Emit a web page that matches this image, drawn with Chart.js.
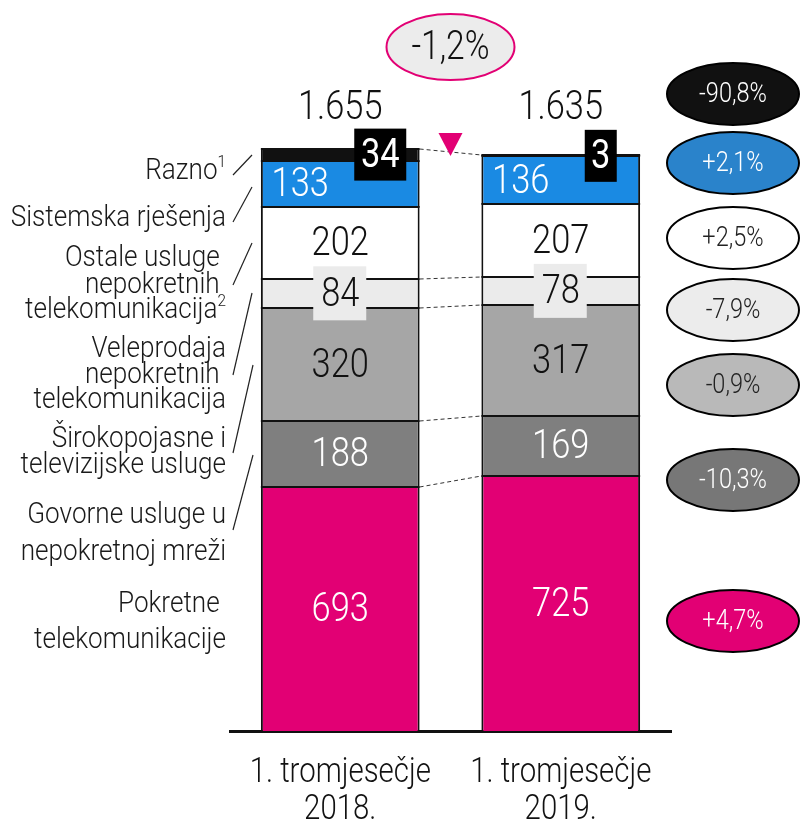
<!DOCTYPE html>
<html>
<head>
<meta charset="utf-8">
<script src="https://cdn.jsdelivr.net/npm/chart.js@4"></script>
<style>
  html, body { margin: 0; padding: 0; background: #fff; }
  #wrap { width: 801px; height: 828px; }
</style>
</head>
<body>
<div id="wrap"><canvas id="c" width="801" height="828"></canvas></div>
<script>
const FONT = "Roboto, 'DejaVu Sans Condensed', sans-serif";
const SX = 0.84;

const categories = [['1. tromjesečje', '2018.'], ['1. tromjesečje', '2019.']];
const seriesNames = ['Pokretne telekomunikacije', 'Govorne usluge u nepokretnoj mreži', 'Širokopojasne i televizijske usluge',
  'Veleprodaja nepokretnih telekomunikacija', 'Ostale usluge nepokretnih telekomunikacija', 'Sistemska rješenja', 'Razno'];
const pokretne = [693, 725];
const govorne = [188, 169];
const sirokopojasne = [320, 317];
const veleprodaja = [84, 78];
const ostale = [202, 207];
const sistemska = [133, 136];
const razno = [34, 3];
const totalLabels = ['1.655', '1.635'];
const changeLabels = ['+4,7%', '-10,3%', '-0,9%', '-7,9%', '+2,5%', '+2,1%', '-90,8%'];
const totalChange = '-1,2%';

const fills = ['#e20074', '#7f7f7f', '#a6a6a6', '#ebebeb', '#ffffff', '#1a8ae3', '#111111'];
const textColors = ['#fff', '#fff', '#111', '#111', '#111', '#fff', '#fff'];
const ellipseFills = ['#e20074', '#777777', '#b9b9b9', '#ececec', '#ffffff', '#2a83cb', '#111111'];
const ellipseText = ['#fff', '#fff', '#222', '#222', '#222', '#fff', '#fff'];
const ellipseY = [621, 480, 385, 310, 238, 163, 94];

const allSeries = [pokretne, govorne, sirokopojasne, veleprodaja, ostale, sistemska, razno];

const leftLabels = [
  { lines: ['Razno'], sup: '1', y: [172] },
  { lines: ['Sistemska rješenja'], y: [219] },
  { lines: ['Ostale usluge ', 'nepokretnih ', 'telekomunikacija'], sup: '2', y: [259, 286, 311] },
  { lines: ['Veleprodaja', 'nepokretnih ', 'telekomunikacija'], y: [350, 376, 401] },
  { lines: ['Širokopojasne i', 'televizijske usluge'], y: [440, 466] },
  { lines: ['Govorne usluge u', 'nepokretnoj mreži'], y: [516, 553] },
  { lines: ['Pokretne ', 'telekomunikacije'], y: [605, 641] }
];
const leaders = [
  [233, 175, 252, 155], [233, 222, 252, 187], [233, 285, 252, 243],
  [233, 375, 252, 293], [233, 453, 253, 365], [233, 530, 253, 455]
];

function txt(ctx, s, x, y, size, color, align, weight, sx) {
  ctx.save();
  ctx.font = (weight || 300) + ' ' + size + 'px ' + FONT;
  ctx.fillStyle = color;
  ctx.textAlign = align || 'center';
  ctx.textBaseline = 'middle';
  ctx.translate(x, y);
  const k = sx || SX;
  ctx.scale(k, 1);
  ctx.fillText(s, 0, 0);
  const w = ctx.measureText(s).width * k;
  ctx.restore();
  return w;
}

const overlay = {
  id: 'overlay',
  afterDatasetsDraw(chart) {
    const ctx = chart.ctx;
    const metas = allSeries.map((_, i) => chart.getDatasetMeta(i));
    ctx.save();

    // segment boundary lines
    ctx.strokeStyle = '#111';
    ctx.lineWidth = 2;
    metas.forEach(m => m.data.forEach(el => {
      const y = Math.round(el.y);
      ctx.beginPath();
      ctx.moveTo(el.x - el.width / 2, y);
      ctx.lineTo(el.x + el.width / 2, y);
      ctx.stroke();
    }));

    // dashed connectors
    ctx.strokeStyle = '#333';
    ctx.lineWidth = 1;
    ctx.setLineDash([4, 3]);
    [0, 1, 2, 3, 6].forEach(i => {
      const a = metas[i].data[0], b = metas[i].data[1];
      ctx.beginPath();
      ctx.moveTo(a.x + a.width / 2, Math.round(a.y));
      ctx.lineTo(b.x - b.width / 2, Math.round(b.y));
      ctx.stroke();
    });
    ctx.setLineDash([]);

    // segment labels
    allSeries.forEach((arr, i) => {
      metas[i].data.forEach((el, j) => {
        const cy = (el.y + el.base) / 2;
        let cx = el.x;
        if (i === 5) cx = el.x - 40;
        if (i === 6) cx = el.x + 40;
        if (i === 3) {
          ctx.fillStyle = '#ebebeb';
          ctx.fillRect(cx - 27, cy - 27, 53, 54);
        }
        if (i === 6) {
          const w = String(arr[j]).length > 1 ? 52 : 32;
          ctx.fillStyle = '#000';
          ctx.fillRect(cx - w / 2, cy - 26, w, 52);
        }
        txt(ctx, String(arr[j]), cx, cy + 2, 41, textColors[i], 'center', i === 6 ? 400 : 300);
      });
    });

    // totals
    metas[6].data.forEach((el, j) => txt(ctx, totalLabels[j], el.x, 109, 41, '#111'));

    // category labels
    metas[0].data.forEach((el, j) => {
      txt(ctx, categories[j][0], el.x, 773, 35, '#111');
      txt(ctx, categories[j][1], el.x, 810, 35, '#111');
    });

    // triangle
    const mid = (metas[0].data[0].x + metas[0].data[1].x) / 2;
    ctx.fillStyle = '#e20074';
    ctx.beginPath();
    ctx.moveTo(mid - 12, 133);
    ctx.lineTo(mid + 12, 133);
    ctx.lineTo(mid, 156);
    ctx.closePath();
    ctx.fill();

    // top ellipse
    ctx.beginPath();
    ctx.ellipse(mid, 47, 64, 33, 0, 0, Math.PI * 2);
    ctx.fillStyle = '#ececec';
    ctx.fill();
    ctx.lineWidth = 2;
    ctx.strokeStyle = '#e20074';
    ctx.stroke();
    txt(ctx, totalChange, mid, 49, 40, '#111');

    // right ellipses
    changeLabels.forEach((t, i) => {
      ctx.beginPath();
      ctx.ellipse(733, ellipseY[i], 66, 31, 0, 0, Math.PI * 2);
      ctx.fillStyle = ellipseFills[i];
      ctx.fill();
      ctx.lineWidth = 2;
      ctx.strokeStyle = '#000';
      ctx.stroke();
      txt(ctx, t, 733, ellipseY[i] + 1, 28, ellipseText[i]);
    });

    // left labels
    leftLabels.forEach(l => {
      l.lines.forEach((ln, k) => {
        const last = k === l.lines.length - 1;
        let xr = 226;
        if (last && l.sup) {
          const sw = txt(ctx, l.sup, xr, l.y[k] - 9, 17, '#1a1a1a', 'right', 300, 0.9);
          xr -= sw;
        }
        txt(ctx, ln, xr, l.y[k], 29, '#1a1a1a', 'right', 300, 0.9);
      });
    });
    ctx.strokeStyle = '#222';
    ctx.lineWidth = 1.2;
    leaders.forEach(s => {
      ctx.beginPath();
      ctx.moveTo(s[0], s[1]);
      ctx.lineTo(s[2], s[3]);
      ctx.stroke();
    });
    ctx.restore();
  }
};

new Chart(document.getElementById('c'), {
  type: 'bar',
  data: {
    labels: categories,
    datasets: allSeries.map((arr, i) => ({
      label: seriesNames[i],
      data: arr,
      backgroundColor: fills[i],
      borderColor: '#111',
      borderWidth: { top: 0, bottom: 0, left: 2, right: 2 },
      borderSkipped: false,
      categoryPercentage: 1,
      barPercentage: 0.72
    }))
  },
  options: {
    responsive: false,
    animation: false,
    devicePixelRatio: 1,
    layout: { padding: { left: 230, right: 130, top: 62, bottom: 0 } },
    plugins: { legend: { display: false }, tooltip: { enabled: false } },
    scales: {
      x: {
        stacked: true,
        grid: { display: false, drawTicks: false },
        border: { display: true, color: '#111', width: 3 },
        ticks: { display: false },
        afterFit(scale) { scale.height = 97; }
      },
      y: {
        stacked: true,
        display: false,
        min: 0,
        max: 1900
      }
    }
  },
  plugins: [overlay]
});
</script>
</body>
</html>
